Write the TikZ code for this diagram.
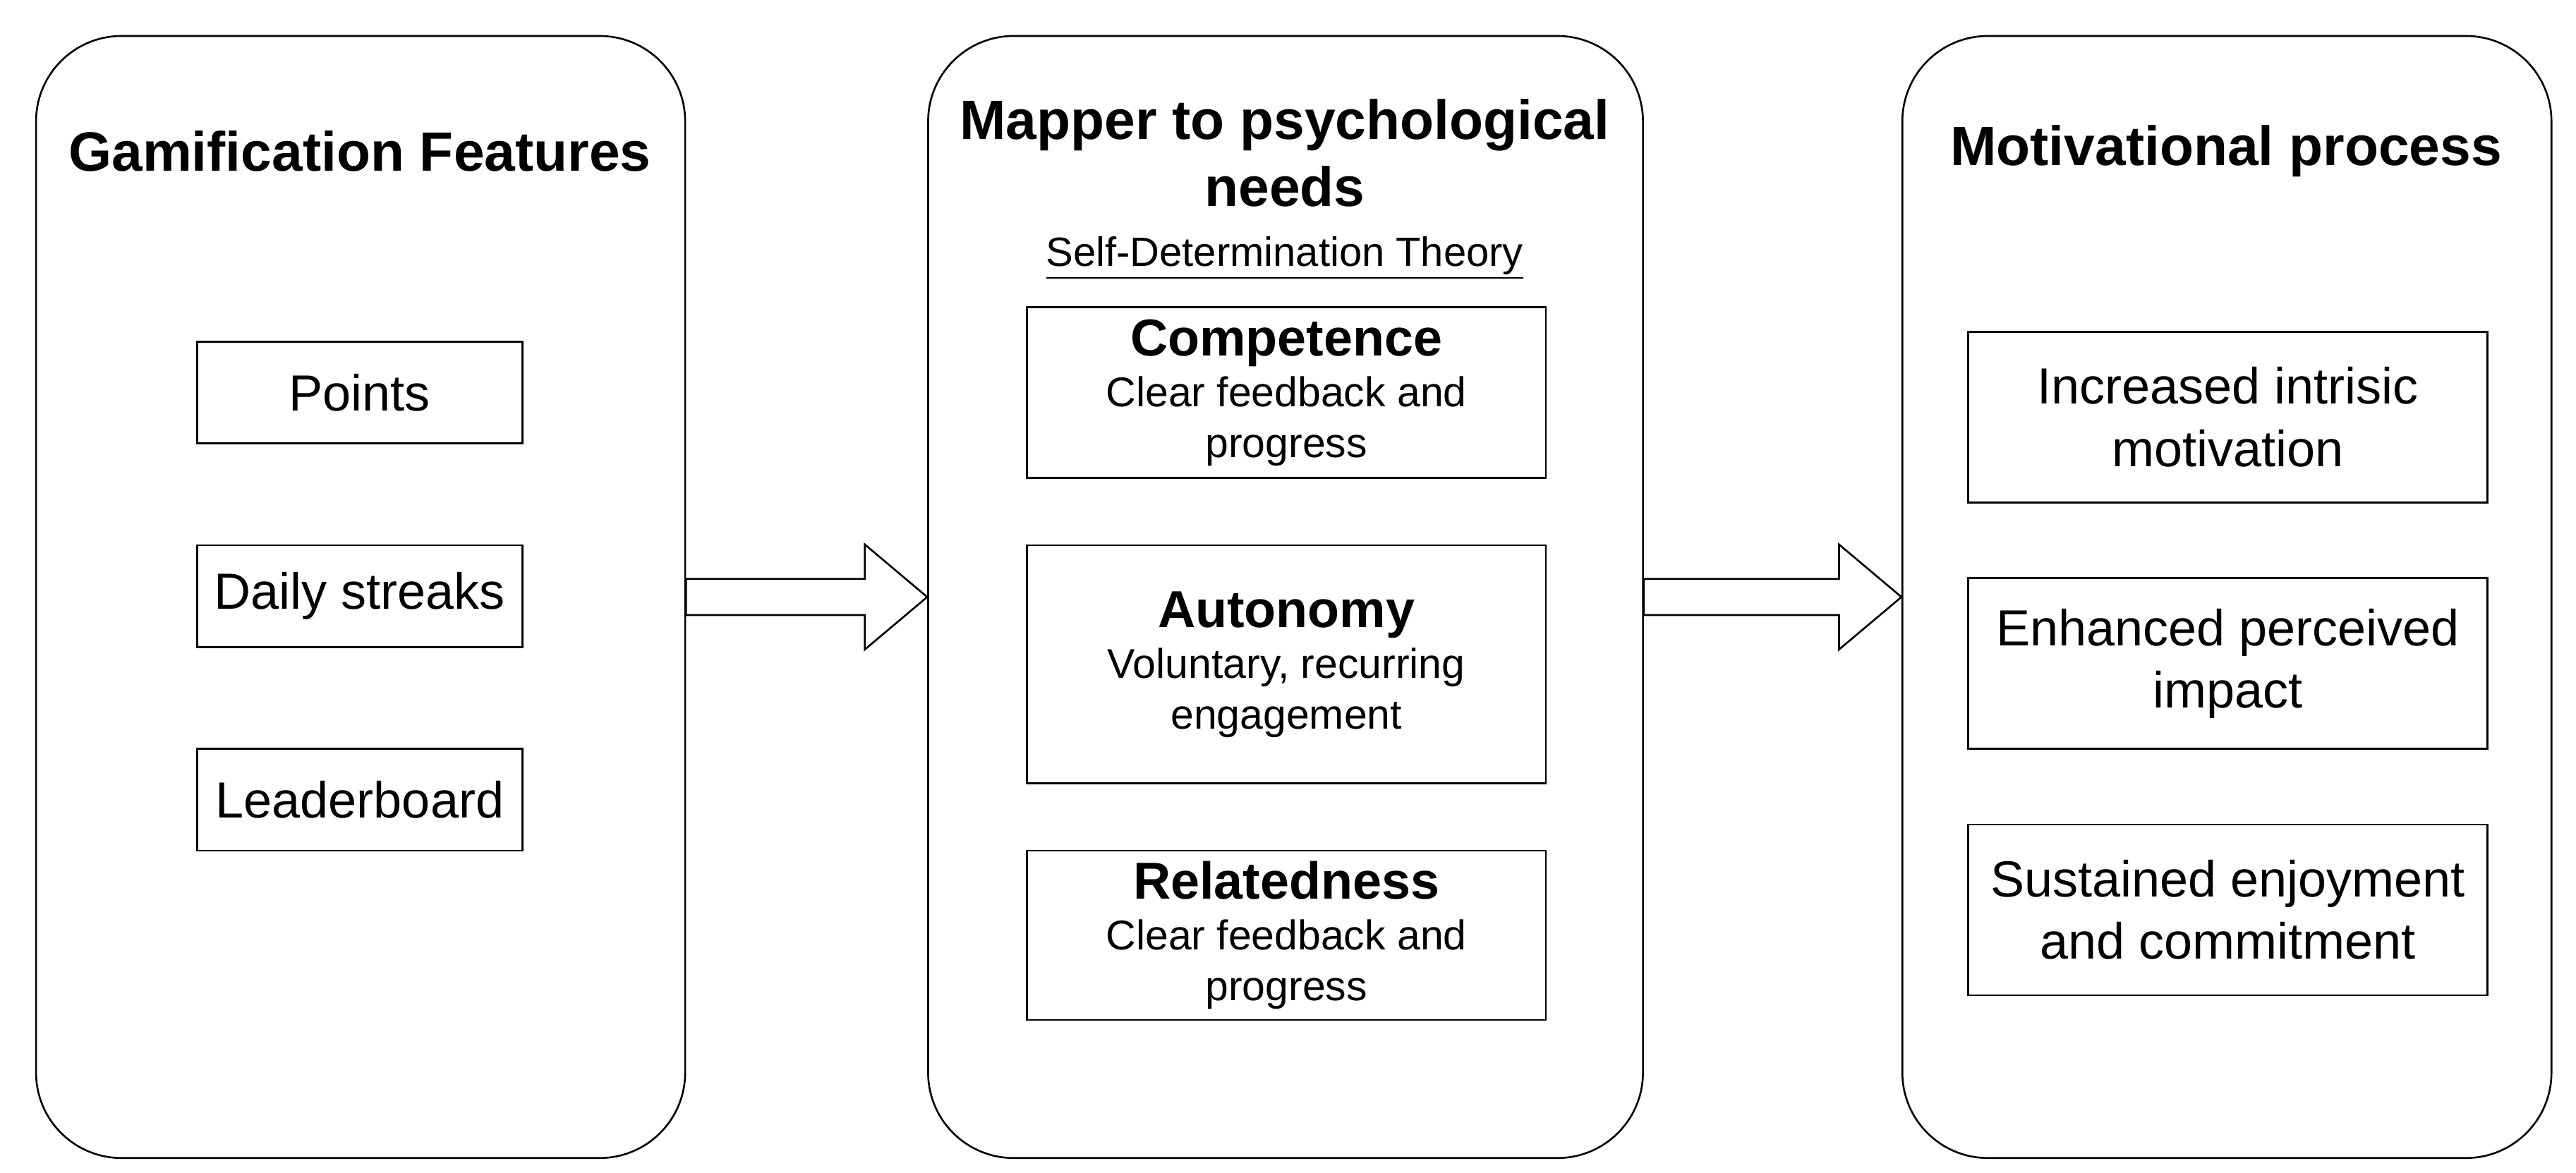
\documentclass[tikz,border=0pt]{standalone}
\usepackage{fontspec}
\setmainfont{Liberation Sans}
\usetikzlibrary{calc}
\tikzset{
  panel/.style={draw, thick, rounded corners=1.3cm, minimum width=9.875cm, minimum height=17.075cm},
  ttl/.style={font=\fontsize{24}{29}\selectfont\bfseries, align=center},
  feat/.style={draw, thick, minimum width=4.95cm, minimum height=1.55cm, font=\fontsize{22}{26}\selectfont},
  need/.style={draw, thick, minimum width=7.9cm, align=center, font=\fontsize{18}{22}\selectfont},
  proc/.style={draw, thick, minimum width=7.9cm, minimum height=2.6cm, align=center, font=\fontsize{22}{27}\selectfont},
  block/.style={draw, thick, fill=white}
}
\newcommand{\nm}[1]{{\fontsize{22.5}{26}\selectfont\bfseries #1}}
\begin{document}
\begin{tikzpicture}[x=0.025cm, y=-0.025cm]
\useasboundingbox (0,0) rectangle (1568,714);
% panels
\node (gam)[panel] at (219.5,363.5) {};
\node (map)[panel, minimum width=10.875cm] at (782.5,363.5) {};
\node (mot)[panel] at (1355.5,363.5) {};
% titles
\node[ttl] at (219,92) {Gamification Features};
\node[ttl] at (782,93) {Mapper to psychological\\needs};
\node[font=\fontsize{17.7}{21}\selectfont] at (782,157) {\underline{Self-Determination Theory}};
\node[ttl] at (1355,92) {Motivational process};
% features
\node (pts)[feat] at (219,239) {Points};
\node (day)[feat] at (219,363) {Daily streaks};
\node (lead)[feat] at (219,487) {Leaderboard};
% needs
\node (comp)[need, minimum height=2.6cm] at (783,239) {\nm{Competence}\\Clear feedback and\\progress};
\node (auto)[need, minimum height=3.625cm] at (783,404.5) {\nm{Autonomy}\\Voluntary, recurring\\engagement};
\node (rel)[need, minimum height=2.575cm] at (783,569.5) {\nm{Relatedness}\\Clear feedback and\\progress};
% process
\node (intr)[proc] at (1356,254) {Increased intrisic\\motivation};
\node (imp)[proc] at (1356,404) {Enhanced perceived\\impact};
\node (enj)[proc] at (1356,554) {Sustained enjoyment\\and commitment};
% block arrows
\draw[block] ($(gam.east)+(0,-11)$) -- ($(map.west)+(-38,-11)$) -- ($(map.west)+(-38,-32)$)
  -- (map.west) -- ($(map.west)+(-38,32)$) -- ($(map.west)+(-38,11)$) -- ($(gam.east)+(0,11)$) -- cycle;
\draw[block] ($(map.east)+(0,-11)$) -- ($(mot.west)+(-38,-11)$) -- ($(mot.west)+(-38,-32)$)
  -- (mot.west) -- ($(mot.west)+(-38,32)$) -- ($(mot.west)+(-38,11)$) -- ($(map.east)+(0,11)$) -- cycle;
\end{tikzpicture}
\end{document}
